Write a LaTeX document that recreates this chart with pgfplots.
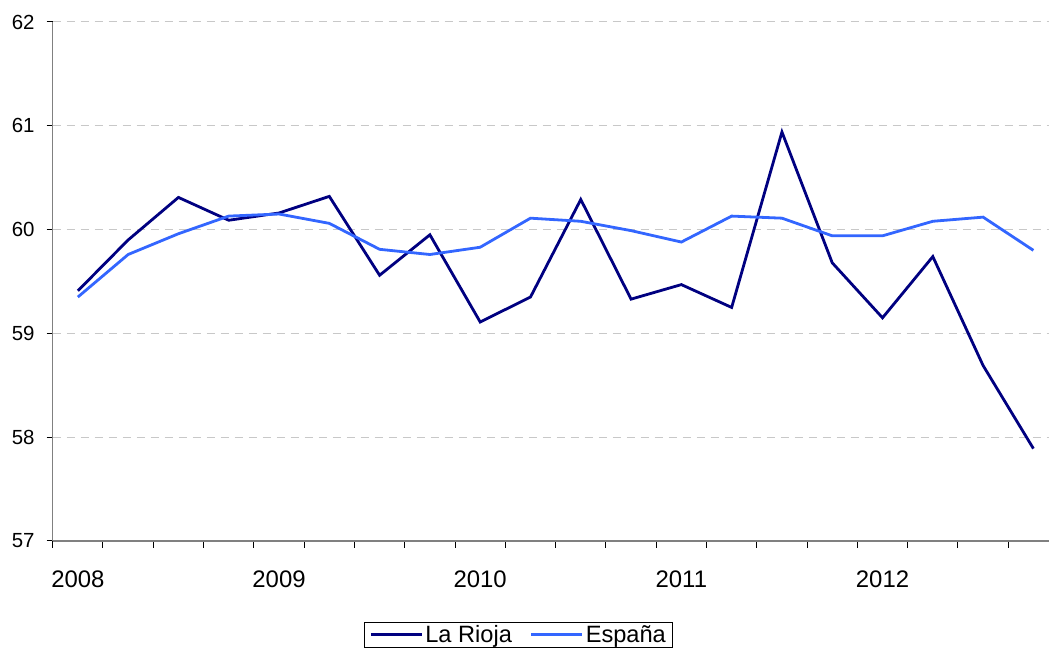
\documentclass[border=0pt]{standalone}
\usepackage{pgfplots}
\pgfplotsset{compat=1.18}
\usepackage{fontspec}
\setmainfont{Liberation Sans}
\definecolor{rioja}{RGB}{0,0,128}
\definecolor{espana}{RGB}{51,102,255}
\definecolor{axgray}{RGB}{128,128,128}
\definecolor{gridgray}{RGB}{200,200,200}
\begin{document}
\begin{tikzpicture}[x=1bp,y=1bp]
\path[use as bounding box] (0,0) rectangle (1049,654);
\begin{axis}[
  at={(52.7bp,113bp)}, anchor=south west,
  scale only axis, width=996.3bp, height=519bp,
  xmin=-0.5, xmax=19.31, ymin=57, ymax=62,
  axis x line*=bottom, axis y line*=left,
  axis line style={axgray, line width=1.3bp, -},
  ytick={57,58,59,60,61,62},
  yticklabels={57,58,59,60,61,62},
  xtick={0,4,8,12,16},
  xticklabels={2008,2009,2010,2011,2012},
  minor xtick={-0.5,0.5,...,18.5},
  major x tick style={draw=none},
  minor x tick style={black, line width=1bp},
  y tick style={black, line width=1bp},
  tick align=outside,
  major tick length=6bp, minor tick length=7bp,
  ymajorgrids,
  major grid style={gridgray, line width=1bp, dash pattern=on 8bp off 6bp},
  xticklabel style={font=\fontsize{24}{28}\selectfont, inner sep=0pt, anchor=north, yshift=-24bp},
  yticklabel style={font=\fontsize{20.5}{24}\selectfont, inner sep=0pt, anchor=east, xshift=-12bp},
  legend style={at={(0.3125,-0.156)}, anchor=north west, draw=black, line width=1bp,
    font=\fontsize{23.7}{26}\selectfont, legend columns=2, inner xsep=5bp, inner ysep=1bp,
    /tikz/every even column/.append style={column sep=16bp}},
  legend image code/.code={\draw[#1, line width=2.8bp] (0bp,0bp) -- (51bp,0bp);},
  clip=false,
]
\addplot[rioja, line width=2.8bp] coordinates {
(0,59.41) (1,59.90) (2,60.31) (3,60.09) (4,60.16) (5,60.32) (6,59.56) (7,59.95)
(8,59.11) (9,59.35) (10,60.29) (11,59.33) (12,59.47) (13,59.25) (14,60.94) (15,59.68)
(16,59.15) (17,59.74) (18,58.69) (19,57.89)};
\addlegendentry{La Rioja}
\addplot[espana, line width=2.8bp] coordinates {
(0,59.35) (1,59.76) (2,59.96) (3,60.13) (4,60.15) (5,60.06) (6,59.81) (7,59.76)
(8,59.83) (9,60.11) (10,60.08) (11,59.99) (12,59.88) (13,60.13) (14,60.11) (15,59.94)
(16,59.94) (17,60.08) (18,60.12) (19,59.80)};
\addlegendentry{España}
\end{axis}
\end{tikzpicture}
\end{document}
